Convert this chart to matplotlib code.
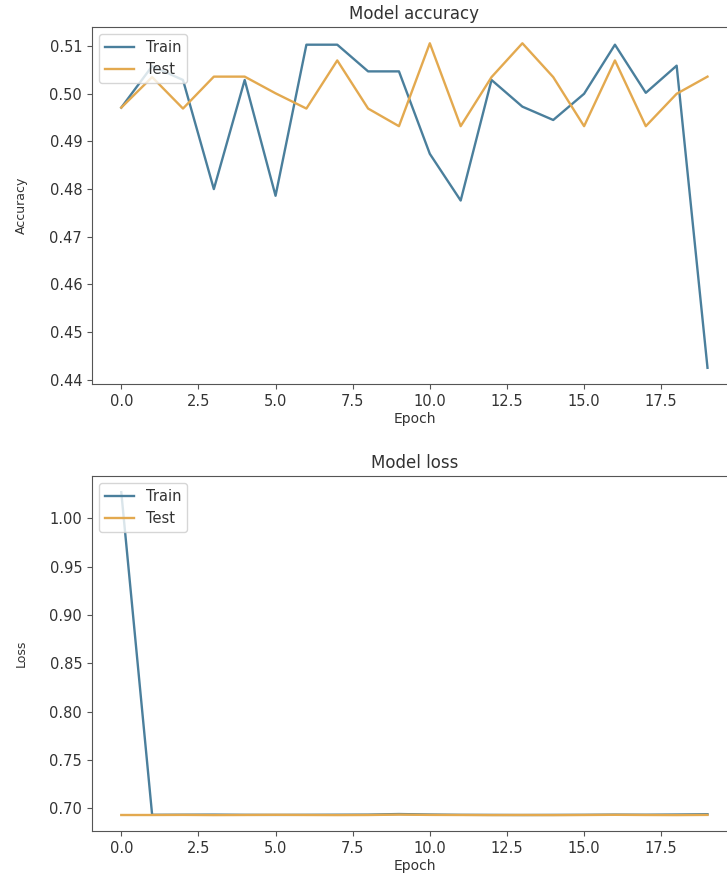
import matplotlib
matplotlib.use('Agg')
import matplotlib.pyplot as plt
from matplotlib.ticker import MultipleLocator

# values
epochs = list(range(20))
train_acc = [0.4971, 0.5058, 0.5029, 0.4800, 0.5029, 0.4786, 0.5103, 0.5103, 0.5047, 0.5047,
             0.4874, 0.4776, 0.5029, 0.4973, 0.4945, 0.5000, 0.5103, 0.5002, 0.5059, 0.4425]
test_acc = [0.4971, 0.5035, 0.4969, 0.5036, 0.5036, 0.5001, 0.4969, 0.5070, 0.4969, 0.4932,
            0.5106, 0.4932, 0.5035, 0.5106, 0.5035, 0.4932, 0.5070, 0.4932, 0.5000, 0.5036]
train_loss = [1.027, 0.6934, 0.6935, 0.6936, 0.6934, 0.6933, 0.6934, 0.6935, 0.6936, 0.6942,
              0.6937, 0.6934, 0.6933, 0.6932, 0.6933, 0.6934, 0.6936, 0.6935, 0.6937, 0.6940]
test_loss = [0.6932, 0.6932, 0.6933, 0.6931, 0.6932, 0.6934, 0.6932, 0.6931, 0.6932, 0.6936,
             0.6933, 0.6932, 0.6931, 0.6932, 0.6931, 0.6932, 0.6934, 0.6932, 0.6931, 0.6933]
legend_labels = ['Train', 'Test']

train_color = '#4a7f9c'
test_color = '#e3a94f'
text_color = '#333333'

plt.rcParams['font.family'] = ['DejaVu Sans']
plt.rcParams['axes.edgecolor'] = '#555555'
plt.rcParams['xtick.color'] = '#555555'
plt.rcParams['ytick.color'] = '#555555'
plt.rcParams['xtick.labelcolor'] = text_color
plt.rcParams['ytick.labelcolor'] = text_color

fig = plt.figure(figsize=(7.27, 8.75), dpi=100)
ax1 = fig.add_axes([0.1265, 0.5611, 0.887, 0.408])
ax2 = fig.add_axes([0.1265, 0.050, 0.887, 0.406])

panels = [
    (ax1, train_acc, test_acc, 'Model accuracy', 'Accuracy', 0.01),
    (ax2, train_loss, test_loss, 'Model loss', 'Loss', 0.05),
]

for ax, tr, te, title, ylab, step in panels:
    ax.plot(epochs, tr, color=train_color, linewidth=1.7)
    ax.plot(epochs, te, color=test_color, linewidth=1.7)
    ax.set_title(title, fontsize=12, color=text_color)
    ax.set_xlabel('Epoch', fontsize=10, color=text_color, labelpad=2)
    ax.set_ylabel(ylab, fontsize=9, color=text_color)
    ax.yaxis.set_label_coords(-0.10, 0.5)
    ax.xaxis.set_major_locator(MultipleLocator(2.5))
    ax.yaxis.set_major_locator(MultipleLocator(step))
    ax.tick_params(labelsize=10.5)
    leg = ax.legend(legend_labels, loc='upper left', fontsize=10.5)
    for t in leg.get_texts():
        t.set_color(text_color)

fig.savefig('out.png', dpi=100)
